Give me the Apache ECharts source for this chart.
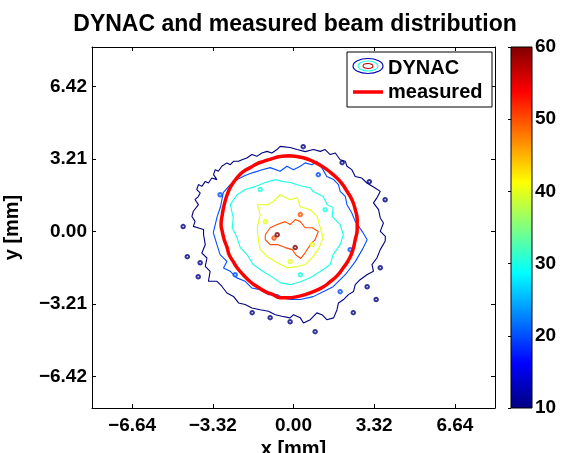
<!DOCTYPE html>
<html><head><meta charset="utf-8">
<script src="https://cdn.jsdelivr.net/npm/echarts@6/dist/echarts.min.js"></script>
<style>html,body{margin:0;padding:0;background:#fff}#c{width:561px;height:453px}</style>
</head><body><div id="c"></div>
<script>
const FONT = "'Liberation Sans', Arial, Helvetica, sans-serif";
const xTicks = [-6.64, -3.32, 0, 3.32, 6.64];
const yTicks = [-6.42, -3.21, 0, 3.21, 6.42];
const cbTicks = [10, 20, 30, 40, 50, 60];
const levelValues = [10, 20, 30, 40, 50, 60];

const level10 = [[-0.55,3.76],[-0.14,3.71],[0.15,3.62],[0.48,3.53],[0.82,3.62],[1.10,3.54],[1.30,3.62],[1.51,3.40],[1.72,3.47],[1.92,3.17],[2.13,3.10],[2.20,2.88],[2.40,2.73],[2.54,2.43],[2.81,2.36],[3.02,2.14],[3.36,1.92],[3.57,1.77],[3.43,1.48],[3.29,1.26],[3.50,0.96],[3.57,0.59],[3.70,0.37],[3.57,0.00],[3.78,-0.22],[3.77,-0.44],[3.57,-0.81],[3.43,-1.18],[3.23,-1.47],[3.29,-1.77],[3.02,-1.92],[2.74,-2.14],[2.54,-2.36],[2.47,-2.66],[2.26,-2.80],[2.06,-3.02],[1.85,-3.17],[1.79,-3.47],[1.65,-3.83],[1.37,-3.91],[1.17,-3.69],[0.96,-3.61],[0.69,-3.91],[0.41,-4.06],[0.28,-3.83],[0.00,-3.69],[-0.14,-3.83],[-0.48,-3.76],[-0.75,-3.69],[-1.03,-3.54],[-1.37,-3.47],[-1.71,-3.39],[-1.99,-3.24],[-2.26,-3.17],[-2.47,-2.88],[-2.74,-2.73],[-2.95,-2.43],[-3.15,-2.21],[-3.50,-2.21],[-3.43,-1.77],[-3.63,-1.55],[-3.56,-1.18],[-3.77,-0.96],[-3.63,-0.59],[-3.70,-0.15],[-3.70,0.08],[-3.91,0.15],[-4.12,0.22],[-4.05,0.44],[-4.18,0.66],[-4.12,0.89],[-3.91,1.18],[-4.05,1.40],[-3.91,1.55],[-3.84,1.70],[-3.98,1.85],[-3.91,2.07],[-3.77,1.99],[-3.63,2.21],[-3.50,2.14],[-3.36,2.36],[-3.15,2.29],[-3.29,2.51],[-3.22,2.73],[-3.09,2.66],[-2.95,2.88],[-2.74,3.03],[-2.60,2.95],[-2.47,3.10],[-2.26,3.10],[-2.12,3.17],[-1.92,3.25],[-1.71,3.40],[-1.51,3.32],[-1.30,3.47],[-1.09,3.54],[-0.89,3.47],[-0.68,3.62],[-0.55,3.76]];
const level20 = [[-3.30,-0.06],[-3.14,0.65],[-3.00,1.10],[-2.89,1.71],[-2.60,2.07],[-2.32,2.29],[-1.99,2.47],[-1.66,2.60],[-1.29,2.73],[-0.96,2.82],[-0.55,2.66],[-0.27,2.88],[0.00,2.73],[0.28,2.88],[0.48,3.03],[0.76,2.95],[0.96,3.10],[1.17,2.81],[1.37,2.43],[1.65,2.29],[1.85,2.07],[1.92,1.77],[2.13,1.55],[2.20,1.18],[2.40,0.81],[2.54,0.44],[2.83,-0.01],[3.03,-0.37],[2.83,-0.81],[2.54,-1.34],[2.13,-1.92],[1.63,-2.45],[1.22,-2.67],[0.81,-2.89],[0.28,-3.02],[-0.14,-3.02],[-0.41,-2.95],[-0.68,-2.80],[-1.03,-2.80],[-1.37,-2.58],[-1.71,-2.51],[-1.99,-2.21],[-2.33,-2.06],[-2.60,-1.77],[-2.88,-1.62],[-2.74,-1.33],[-3.02,-1.03],[-3.15,-0.59],[-3.30,-0.06]];
const level30 = [[-2.32,-0.28],[-2.52,0.16],[-2.48,0.61],[-2.60,1.18],[-2.32,1.62],[-1.99,1.85],[-1.58,1.98],[-1.16,2.16],[-0.75,2.29],[-0.42,2.20],[-0.14,2.16],[0.28,2.02],[0.69,1.93],[0.81,1.76],[1.22,1.54],[1.39,1.18],[1.63,1.05],[1.59,0.65],[1.92,0.30],[2.05,-0.15],[1.92,-0.59],[1.63,-1.03],[1.51,-1.47],[1.10,-1.78],[0.69,-2.05],[0.28,-2.23],[-0.14,-2.36],[-0.55,-2.27],[-0.84,-2.05],[-1.25,-1.78],[-1.66,-1.47],[-1.91,-1.03],[-2.19,-0.72],[-2.32,-0.28]];
const level40 = [[-1.45,-0.37],[-1.49,0.16],[-1.37,0.74],[-1.49,1.18],[-1.08,1.18],[-0.84,1.31],[-0.55,1.62],[-0.14,1.40],[0.15,1.49],[0.28,1.09],[0.69,0.96],[0.98,0.65],[1.10,0.16],[1.22,-0.28],[1.02,-0.81],[0.77,-1.16],[0.48,-1.47],[0.15,-1.56],[-0.26,-1.61],[-0.67,-1.39],[-1.08,-1.12],[-1.37,-0.81],[-1.45,-0.37]];
const level50 = [[-1.16,-0.15],[-0.96,0.16],[-0.67,0.30],[-0.34,0.43],[-0.14,0.30],[0.07,0.52],[0.28,0.43],[0.48,0.16],[0.77,0.16],[1.02,-0.01],[0.89,-0.37],[0.69,-0.59],[0.48,-0.95],[0.30,-1.20],[0.10,-1.05],[-0.05,-0.81],[-0.34,-0.72],[-0.63,-0.59],[-0.96,-0.59],[-1.16,-0.37],[-1.16,-0.15]];

const islands10 = [[0.40,3.75],[2.00,3.04],[-4.54,0.21],[-4.37,-1.12],[-3.84,-1.39],[-3.92,-2.01],[2.46,-3.60],[0.89,-4.44],[-0.14,-4.00],[3.03,-2.45],[3.12,2.20],[3.77,1.40],[3.57,-1.61],[3.40,-3.02],[-0.96,-3.82],[-1.70,-3.60]];
const islands20 = [[-3.02,1.62],[-2.40,-1.92],[2.33,-0.81],[1.92,-2.67],[1.02,2.51]];
const islands30 = [[-1.37,1.85],[1.30,0.96],[0.28,-1.92]];
const islands40 = [[-1.16,0.43],[0.77,-0.59],[-0.14,-1.34]];
const islands50 = [[0.28,0.74],[-0.80,-0.30]];
const islands60 = [[-0.67,-0.15],[0.07,-0.72]];

const measured = [[-0.14,3.35],[0.40,3.26],[0.81,3.09],[1.26,2.82],[1.63,2.51],[1.96,2.16],[2.21,1.76],[2.42,1.36],[2.54,0.96],[2.62,0.52],[2.62,0.08],[2.54,-0.37],[2.42,-0.90],[2.25,-1.30],[2.05,-1.61],[1.80,-1.96],[1.51,-2.23],[1.18,-2.49],[0.81,-2.67],[0.48,-2.80],[0.15,-2.89],[-0.22,-2.94],[-0.55,-2.94],[-0.84,-2.80],[-1.16,-2.67],[-1.49,-2.45],[-1.78,-2.23],[-2.07,-1.92],[-2.32,-1.61],[-2.48,-1.34],[-2.65,-1.03],[-2.73,-0.72],[-2.85,-0.37],[-2.93,-0.01],[-2.98,0.30],[-2.93,0.74],[-2.85,1.18],[-2.73,1.62],[-2.56,2.02],[-2.32,2.38],[-2.07,2.64],[-1.78,2.82],[-1.49,3.00],[-1.25,3.09],[-0.88,3.22],[-0.55,3.31],[-0.14,3.35]];

const jetStops = [
  {offset:0, color:'#000080'},{offset:0.125, color:'#0000ff'},{offset:0.375, color:'#00ffff'},
  {offset:0.625, color:'#ffff00'},{offset:0.875, color:'#ff0000'},{offset:1, color:'#800000'}];
function jet(v){
  const t = (v - cbTicks[0]) / (cbTicks[cbTicks.length-1] - cbTicks[0]);
  const c = x => Math.round(255*Math.max(0, Math.min(1, x)));
  return 'rgb(' + c(1.5-Math.abs(4*t-3)) + ',' + c(1.5-Math.abs(4*t-2)) + ',' + c(1.5-Math.abs(4*t-1)) + ')';
}
const fmt = v => (v < 0 ? '\u2212' : '') + Math.abs(v).toFixed(2);
const lab = {fontFamily: FONT, fontWeight:'bold', fontSize:19, color:'#000'};

const contours = [level10, level20, level30, level40, level50];
const islands = [islands10, islands20, islands30, islands40, islands50, islands60];

const series = [];
contours.forEach((d, i) => series.push({
  type:'line', xAxisIndex:0, yAxisIndex:0, data:d, symbol:'none', silent:true,
  lineStyle:{width:1.1, color: jet(levelValues[i])}, z:2
}));
islands.forEach((d, i) => series.push({
  type:'scatter', xAxisIndex:0, yAxisIndex:0, data:d, symbol:'emptyCircle', symbolSize:3.5, silent:true,
  itemStyle:{color: jet(levelValues[i]), borderWidth:1}, z:2
}));
series.push({
  type:'line', xAxisIndex:0, yAxisIndex:0, data:measured, symbol:'none', smooth:true, silent:true,
  lineStyle:{width:3.5, color:'#ff0000'}, z:5
});
series.push({
  type:'custom', xAxisIndex:2, yAxisIndex:2, silent:true,
  data:[[0, cbTicks[0], 1, cbTicks[cbTicks.length-1]]],
  renderItem:(params, api) => {
    const p0 = api.coord([api.value(0), api.value(3)]);
    const p1 = api.coord([api.value(2), api.value(1)]);
    return {type:'rect', shape:{x:p0[0], y:p0[1], width:p1[0]-p0[0], height:p1[1]-p0[1]},
      style:{fill:new echarts.graphic.LinearGradient(0,1,0,0,jetStops), stroke:'#000', lineWidth:1}};
  }
});

const XMIN=-8.29, XMAX=8.29, YMIN=-7.82, YMAX=8.16;
const chart = echarts.init(document.getElementById('c'), null, {renderer:'canvas'});
chart.setOption({
  animation:false,
  backgroundColor:'#fff',
  grid:[
    {left:92, top:47, width:403, height:361, outerBoundsMode:'none', containLabel:false},
    {left:511, top:47, width:21, height:361, outerBoundsMode:'none', containLabel:false}
  ],
  xAxis:[
    {type:'value', gridIndex:0, min:XMIN, max:XMAX, position:'bottom',
     axisLine:{show:true, onZero:false, lineStyle:{color:'#000', width:1}},
     axisTick:{show:true, inside:true, length:4, customValues:xTicks, lineStyle:{color:'#000'}},
     axisLabel:{show:true, customValues:xTicks, formatter:fmt, margin:8, ...lab},
     splitLine:{show:false},
     name:'x [mm]', nameLocation:'middle', nameGap:25, nameTextStyle:{...lab, fontSize:20}},
    {type:'value', gridIndex:0, min:XMIN, max:XMAX, position:'top',
     axisLine:{show:true, onZero:false, lineStyle:{color:'#000', width:1}},
     axisTick:{show:true, inside:true, length:4, customValues:xTicks, lineStyle:{color:'#000'}},
     axisLabel:{show:false}, splitLine:{show:false}},
    {type:'value', gridIndex:1, min:0, max:1, show:false}
  ],
  yAxis:[
    {type:'value', gridIndex:0, min:YMIN, max:YMAX, position:'left',
     axisLine:{show:true, onZero:false, lineStyle:{color:'#000', width:1}},
     axisTick:{show:true, inside:true, length:4, customValues:yTicks, lineStyle:{color:'#000'}},
     axisLabel:{show:true, customValues:yTicks, formatter:fmt, margin:5, ...lab},
     splitLine:{show:false},
     name:'y [mm]', nameLocation:'middle', nameGap:70, nameRotate:90, nameTextStyle:{...lab, fontSize:20}},
    {type:'value', gridIndex:0, min:YMIN, max:YMAX, position:'right',
     axisLine:{show:true, onZero:false, lineStyle:{color:'#000', width:1}},
     axisTick:{show:true, inside:true, length:4, customValues:yTicks, lineStyle:{color:'#000'}},
     axisLabel:{show:false}, splitLine:{show:false}},
    {type:'value', gridIndex:1, min:cbTicks[0], max:cbTicks[cbTicks.length-1], interval:10, position:'right',
     axisLine:{show:false},
     axisTick:{show:true, inside:true, length:3, lineStyle:{color:'#000'}},
     axisLabel:{show:true, margin:3, ...lab}, splitLine:{show:false}}
  ],
  graphic:[
    {type:'text', x:295, y:25, z:10, style:{text:'DYNAC and measured beam distribution', font:'bold 23px ' + FONT,
      fill:'#000', textAlign:'center', textVerticalAlign:'middle', align:'center', verticalAlign:'middle'}},
    {type:'rect', x:347, y:52, z:10, shape:{width:145, height:55}, style:{fill:'#fff', stroke:'#000', lineWidth:1}},
    {type:'ellipse', x:368, y:66, z:11, shape:{cx:0, cy:0, rx:15, ry:7.5}, style:{fill:'none', stroke:jet(12), lineWidth:1.1}},
    {type:'ellipse', x:368, y:66, z:11, shape:{cx:0, cy:0, rx:10, ry:5}, style:{fill:'none', stroke:jet(30), lineWidth:1.1}},
    {type:'ellipse', x:368, y:66, z:11, shape:{cx:0, cy:0, rx:5, ry:2.5}, style:{fill:'none', stroke:jet(57), lineWidth:1.1}},
    {type:'text', x:388, y:68, z:11, style:{text:'DYNAC', font:'bold 20px ' + FONT, fill:'#000',
      textVerticalAlign:'middle', verticalAlign:'middle'}},
    {type:'line', x:0, y:0, z:11, shape:{x1:353, y1:92, x2:383, y2:92}, style:{stroke:'#ff0000', lineWidth:3.5}},
    {type:'text', x:388, y:92, z:11, style:{text:'measured', font:'bold 20px ' + FONT, fill:'#000',
      textVerticalAlign:'middle', verticalAlign:'middle'}}
  ],
  series: series
});
</script></body></html>
